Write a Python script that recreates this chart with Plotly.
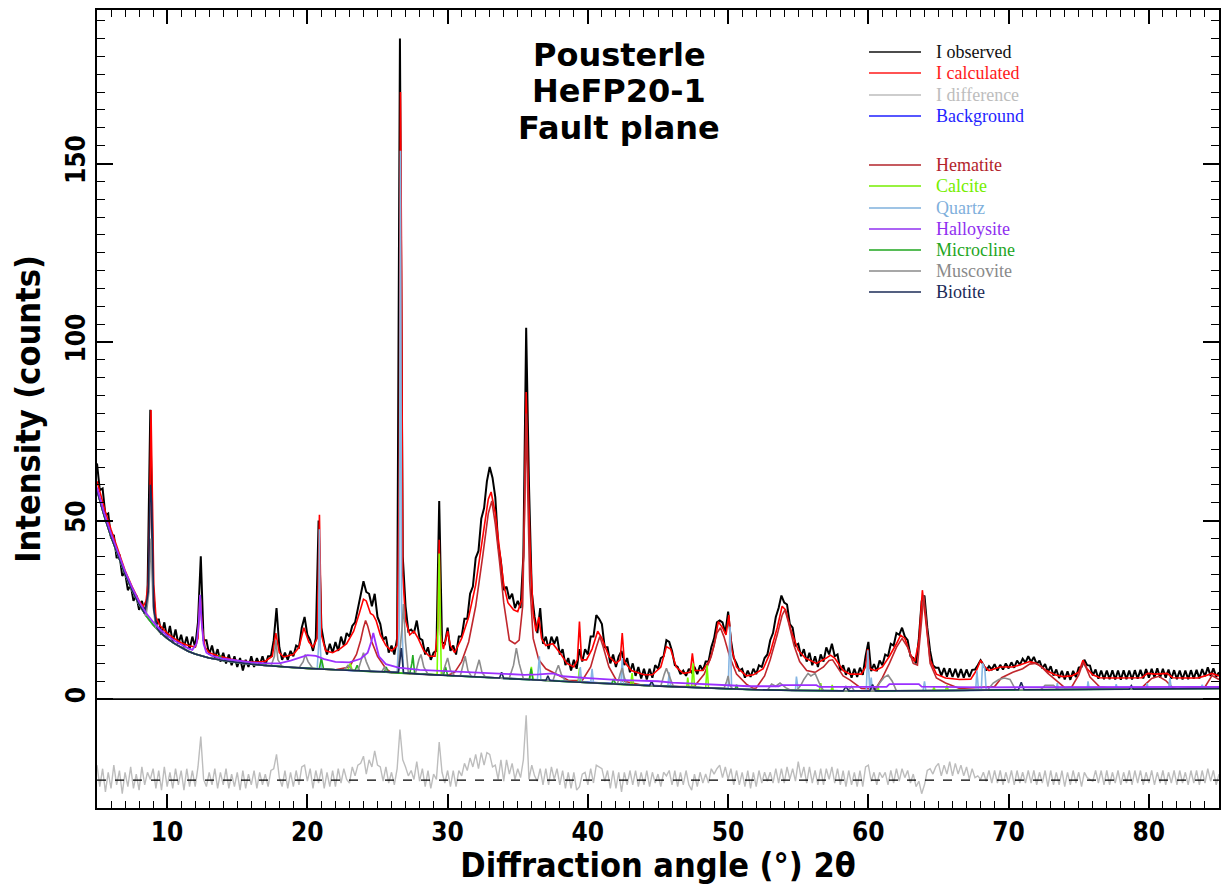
import numpy as np
import plotly.graph_objects as go

## scan grid (2theta, 0.2 deg step) for observed and difference curves
two_theta = np.round(np.arange(5.0, 85.0001, 0.2), 1)

obs_y = [
    66, 58.5, 59, 51.5, 52, 45, 46, 39.5, 40.5, 34.5,          # 5.0 - 6.8
    35.5, 30.5, 32, 27.5, 29, 25, 27.5, 24, 29, 81,            # 7.0 - 8.8
    31, 20.5, 22.5, 18, 21.5, 17, 20.5, 16, 19.5, 15.5,        # 9.0 - 10.8
    18, 14.5, 17.5, 14, 17.5, 14.5, 21.5, 40, 16.5, 16.5,      # 11.0 - 12.8
    12.5, 15, 11.5, 14, 10.5, 13, 10, 12.5, 9.5, 12,           # 13.0 - 14.8
    9, 11.5, 8, 11, 9, 12, 9, 11.5, 9.5, 12,                   # 15.0 - 16.8
    9.5, 12, 12, 16.5, 25.5, 14.5, 11, 13, 11, 13.5,           # 17.0 - 18.8
    12, 15, 14.5, 20, 23, 18, 16.5, 13.5, 17, 50,              # 19.0 - 20.8
    20, 15.5, 12.5, 15.5, 13, 16, 13.5, 17.5, 15, 18.5,        # 21.0 - 22.8
    17.5, 20.5, 21.5, 25.5, 28.5, 33, 30, 29.5, 26, 29.5,      # 23.0 - 24.8
    23, 21, 16.5, 17.5, 13, 15, 12.5, 17, 185, 40,             # 25.0 - 26.8
    26, 19, 19.5, 18.5, 22, 17, 16.5, 12.5, 14.5, 11,          # 27.0 - 28.8
    13, 13.5, 55.5, 16, 15.5, 20, 13.5, 15, 12.5, 17.5,        # 29.0 - 30.8
    17.5, 22.5, 22.5, 29.5, 31.5, 39.5, 41.5, 50.5, 53.5, 61,  # 31.0 - 32.8
    65, 62, 56.5, 43.5, 38.5, 30.5, 31.5, 28, 29.5, 25.5,      # 33.0 - 34.8
    27.5, 25.5, 40, 104, 60, 30, 23, 18.5, 25.5, 15.5,         # 35.0 - 36.8
    17.5, 14, 17.5, 15.5, 17.5, 12.5, 14, 9.5, 11.5, 8,        # 37.0 - 38.8
    11, 8.5, 14, 10.5, 14, 12.5, 17.5, 17.5, 23.5, 22.5,       # 39.0 - 40.8
    21, 14.5, 14.5, 10, 12.5, 9, 12, 13.5, 9.5, 11.5,          # 41.0 - 42.8
    7.5, 10, 6.5, 9, 5.8, 8.5, 5.5, 8.5, 6, 9.5,               # 43.0 - 44.8
    8.5, 11.5, 12, 16.5, 16, 13.5, 9.5, 9, 7, 8,               # 45.0 - 46.8
    6.5, 8.5, 7.5, 9, 7, 9.5, 8, 10.5, 10.5, 14.5,             # 47.0 - 48.8
    17, 21.5, 22, 21.5, 18.5, 24.5, 16.5, 11.5, 10, 8,         # 49.0 - 50.8
    8.5, 6, 8, 6.2, 8.5, 7, 9.5, 9, 11.5, 12.5,                # 51.0 - 52.8
    16.5, 18.5, 23, 25.5, 29, 27, 26.5, 21, 20, 15,            # 53.0 - 54.8
    15.5, 12, 14, 10.5, 13, 9.5, 12, 9, 12.5, 10.5,            # 55.0 - 56.8
    14.5, 12.5, 15.5, 12, 12.5, 8, 9.5, 6.8, 8.8, 6,           # 57.0 - 58.8
    8.5, 6.2, 8.8, 6.8, 12, 16, 7.8, 9.8, 7.8, 10.8,           # 59.0 - 60.8
    9.5, 12.5, 12, 15.5, 15, 18.5, 18, 20, 17.5, 16.5,         # 61.0 - 62.8
    12, 11.5, 10, 17, 27.5, 29, 20, 13.5, 9.5, 8.8,            # 63.0 - 64.8
    8.8, 6.6, 8.7, 6.3, 8.6, 6.2, 8.5, 6.1, 8.4, 6,            # 65.0 - 66.8
    8.3, 6.2, 8.2, 8.3, 9.5, 10.9, 9.6, 8, 9.2, 8.3,           # 67.0 - 68.8
    9.8, 8, 9.6, 8.3, 10, 8.6, 10.3, 8.8, 10.8, 9.6,           # 69.0 - 70.8
    11.3, 10.2, 12, 10.4, 11.8, 9.8, 10.8, 8.6, 9.8, 7.6,      # 71.0 - 72.8
    9.2, 6.6, 8.3, 5.9, 7.9, 5.5, 7.8, 5.4, 7.9, 6.2,          # 73.0 - 74.8
    8.8, 9, 11, 9.5, 9.4, 6.6, 8.3, 5.7, 8, 5.6,               # 75.0 - 76.8
    8, 5.6, 8.1, 5.5, 8, 5.4, 8.1, 5.6, 8, 5.5,                # 77.0 - 78.8
    8.1, 5.7, 8.2, 5.8, 8.4, 6, 8.5, 6.1, 8.6, 6,              # 79.0 - 80.8
    8.5, 6, 8.3, 5.7, 8.1, 5.6, 8, 5.5, 8, 5.6,                # 81.0 - 82.8
    8.1, 5.7, 8.2, 5.8, 8.4, 6.4, 8.9, 6.5, 8.6, 6.3,          # 83.0 - 84.8
    7.5]

# difference curve, already shifted down to its own baseline
diff_offset = -22.7
diff_y = [
    -18.5, -24.5, -19.5, -26, -20.5, -25, -18.5, -24, -20, -26.5,
    -20.5, -24.5, -19, -25, -21, -25.5, -19, -24, -20.5, -22.5,
    -19.5, -25, -20, -25.5, -19, -24.5, -20.5, -25, -19.5, -24,
    -20, -25.5, -19.5, -24.5, -20, -24.5, -19, -10.5, -22.5, -24.5,
    -20.5, -24, -19.5, -25, -20.5, -24, -19.5, -25, -21, -24.5,
    -20.5, -25.5, -20, -25, -21, -24, -20, -25, -20.5, -24,
    -21, -24.5, -20, -19.5, -15.5, -22, -24.5, -20, -25, -20.5,
    -24.5, -20, -24, -19, -18.5, -23, -19.5, -25, -20, -23.5,
    -19.5, -25, -20.5, -24.5, -20, -24.5, -19.5, -23.5, -19.5, -22.5,
    -23.5, -19, -21.5, -18.5, -18, -16, -21, -17, -19, -14.5,
    -18.5, -19, -23, -19, -23.5, -20.5, -24, -19.5, -8.5, -17,
    -19, -21.5, -20, -22.5, -17.5, -23, -19.5, -24.5, -20, -25,
    -21, -22.5, -12, -20.5, -23.5, -20, -24.5, -20, -24.5, -20,
    -21.5, -18, -20, -16.5, -19, -15.5, -19.5, -15, -18.5, -15,
    -15.5, -19, -18.5, -22.5, -17, -23, -17, -21, -18, -22.5,
    -19.5, -22, -17, -4.5, -22.5, -18.5, -21.5, -23, -19.5, -24,
    -19.5, -24, -19, -22.5, -19.5, -24, -20, -25, -20.5, -25,
    -20.5, -25.5, -24.5, -21, -20.5, -24, -19.5, -23.5, -18.5, -19,
    -19.5, -23, -20, -25, -20, -25, -20.5, -26, -20.5, -24,
    -20, -24, -20, -24.5, -20.5, -24, -20, -24.5, -20.5, -23.5,
    -21, -24.5, -20.5, -21.5, -20, -24, -20, -24.5, -20.5, -24,
    -20, -24, -25.5, -21, -24.5, -20.5, -23.5, -21, -23.5, -19.5,
    -21, -19.5, -18.5, -22, -19, -22.5, -19.5, -24, -20, -24,
    -20.5, -24.5, -20, -25, -20.5, -24.5, -20, -23.5, -20.5, -23,
    -20.5, -23.5, -19.5, -23.5, -19.5, -23.5, -19, -22.5, -19.5, -23,
    -17.5, -22, -19, -23.5, -19, -23.5, -20, -24, -19.5, -24,
    -19.5, -22.5, -19, -23.5, -19.5, -24, -20, -24.5, -20, -24,
    -20.5, -24.5, -20, -24.5, -19, -18.5, -23, -20.5, -24, -20.5,
    -22, -20.5, -24, -20, -23.5, -19.5, -23, -19.5, -22, -20,
    -23.5, -21, -24.5, -23, -26.5, -24, -20, -19.5, -21, -19,
    -18, -21.5, -18.5, -21, -17.5, -21.5, -18, -21, -18.5, -21.5,
    -19, -22.5, -19.5, -22, -21.5, -22.5, -20.5, -23, -20, -23.5,
    -20, -23.5, -20, -24, -20.5, -23.5, -20, -24, -20, -23.5,
    -20.5, -23.5, -20, -23.5, -20, -24, -20.5, -23.5, -20, -24.5,
    -20, -24, -20.5, -24, -20, -24.5, -20.5, -24, -20, -23.5,
    -20.5, -24.5, -20.5, -22, -22.5, -23, -20, -23.5, -20, -24,
    -20, -24, -20.5, -23.5, -20, -24, -20.5, -23.5, -20, -24,
    -20, -23.5, -20, -24, -20.5, -23.5, -20, -24, -20.5, -23.5,
    -20, -24, -20.5, -23.5, -20, -24, -20, -23.5, -20.5, -24,
    -20, -23.5, -20, -24, -20, -23.5, -19.5, -23, -20, -24,
    -21]

## calculated pattern (2theta, counts)
calc_pts = [
    (5.0, 61), (5.3, 56.5), (5.6, 52.5), (6.0, 47.5), (6.5, 41.5), (7.0, 36), (7.5, 31.5), (8.0, 27.5),
    (8.3, 26), (8.5, 27.5), (8.65, 33), (8.75, 50), (8.85, 81), (8.95, 55), (9.05, 32), (9.2, 23),
    (9.5, 20.5), (10.0, 18.5), (10.5, 17), (11.0, 15.8), (11.5, 15), (12.0, 14.6), (12.2, 17), (12.35, 29),
    (12.5, 20), (12.7, 14.5), (13.0, 13), (13.5, 12.3), (14.0, 11.7), (14.5, 11.2), (15.0, 10.8), (15.5, 10.5),
    (16.0, 10.4), (16.5, 10.4), (17.0, 10.6), (17.5, 12), (17.75, 18.5), (18.0, 13), (18.3, 11.8), (18.7, 12.2),
    (19.0, 12.5), (19.4, 14.5), (19.75, 20), (20.1, 16), (20.4, 14.5), (20.7, 17), (20.86, 51.6), (21.0, 18),
    (21.3, 13.5), (21.8, 13), (22.3, 14), (22.8, 15.5), (23.3, 19), (23.7, 24), (24.0, 28), (24.2, 27.5),
    (24.5, 24), (24.7, 23.5), (24.9, 22), (25.2, 18), (25.6, 15), (26.0, 13.5), (26.4, 15), (26.55, 60),
    (26.64, 170), (26.72, 120), (26.8, 35), (27.0, 22), (27.3, 18), (27.6, 19), (27.9, 17), (28.3, 13.5),
    (28.7, 12), (29.1, 12), (29.3, 20), (29.4, 44.6), (29.5, 18), (29.7, 14), (30.0, 19), (30.2, 15),
    (30.5, 13), (31.0, 17), (31.5, 23), (32.0, 32), (32.5, 45), (32.9, 56), (33.1, 58), (33.4, 52),
    (33.7, 42), (34.0, 32), (34.3, 27), (34.7, 25), (35.0, 24.5), (35.3, 28), (35.45, 45), (35.6, 86),
    (35.75, 60), (35.9, 40), (36.1, 24), (36.3, 19), (36.5, 23), (36.7, 17), (37.0, 15), (37.5, 15.5),
    (38.0, 13), (38.5, 10), (39.0, 9), (39.25, 11), (39.4, 21.7), (39.55, 11), (39.9, 11), (40.3, 14),
    (40.7, 19), (41.0, 17), (41.5, 12), (42.0, 10), (42.3, 11), (42.45, 18.5), (42.6, 10.5), (43.1, 8),
    (44.0, 6.8), (44.6, 6.8), (45.2, 9), (45.6, 14.7), (45.9, 14), (46.3, 9), (46.8, 7.2), (47.3, 7.5),
    (47.45, 12.8), (47.6, 8), (48.2, 8), (48.5, 10), (48.7, 11), (49.0, 15), (49.3, 21.7), (49.6, 20),
    (49.85, 18), (50.05, 23.5), (50.25, 14), (50.6, 9), (51.3, 6.5), (51.8, 6.8), (52.5, 8.5), (53.0, 13),
    (53.5, 20), (53.85, 26), (54.1, 25), (54.5, 19), (55.0, 13.7), (55.5, 11.5), (56.3, 10), (57.0, 11.5),
    (57.3, 12.3), (57.6, 11.5), (58.2, 8), (58.7, 7), (59.5, 7), (59.8, 9), (59.95, 14), (60.1, 8.5),
    (60.5, 8), (61.0, 9), (61.5, 12), (62.0, 15.5), (62.3, 17.9), (62.6, 17), (63.0, 12.5), (63.3, 10.5),
    (63.6, 16), (63.85, 30.5), (64.1, 22), (64.4, 11), (64.85, 7), (65.5, 5.9), (66.5, 5.5), (67.3, 5.6),
    (67.7, 8), (68.0, 10.9), (68.3, 9), (68.6, 8), (69.4, 9), (70.3, 9), (71.0, 9.8), (71.5, 10.5),
    (72.0, 10), (72.7, 8), (73.3, 6.8), (73.85, 6.3), (74.5, 6.5), (75.0, 7.5), (75.3, 10.9), (75.6, 8.5),
    (76.0, 6.8), (76.5, 6), (77.5, 5.9), (78.5, 5.9), (79.5, 6), (79.9, 7.2), (80.5, 7), (81.3, 7.2),
    (81.7, 6), (82.5, 5.9), (83.5, 5.9), (84.0, 6.5), (84.5, 7.2), (85.0, 6.5)]

## background
bg_pts = [
    (5, 58.5), (5.5, 51.5), (6, 45.5), (6.5, 40), (7, 35), (7.5, 30.5), (8, 26.5), (8.5, 23.3), (9, 20.8),
    (9.5, 18.7), (10, 17), (10.5, 15.6), (11, 14.4), (11.5, 13.4), (12, 12.6), (13, 11.5), (14, 10.8),
    (15, 10.2), (16, 9.8), (17, 9.4), (18, 9.1), (19, 8.8), (20, 8.6), (22, 8.2), (24, 7.8), (26, 7.4),
    (28, 7.0), (30, 6.6), (32, 6.2), (34, 5.8), (36, 5.4), (38, 5.0), (40, 4.6), (42, 4.2), (44, 3.8),
    (46, 3.5), (48, 3.2), (50, 2.9), (52, 2.6), (55, 2.4), (58, 2.3), (62, 2.3), (66, 2.4), (70, 2.6),
    (74, 2.7), (78, 2.8), (82, 2.9), (85, 3.0)]

## phase curves: stretches where each phase rises above the background
hematite_runs = [
    [(23.0, 9), (23.5, 12.5), (23.8, 16.5), (24.0, 20), (24.15, 22), (24.3, 20.5), (24.6, 16), (25.0, 12),
     (25.6, 8.5)],
    [(30.5, 7.5), (31.0, 10.5), (31.5, 16), (32.0, 26), (32.5, 40), (32.9, 52), (33.15, 55.5), (33.4, 49),
     (33.7, 38.5), (34.0, 27), (34.4, 16.5), (34.8, 15.5), (35.1, 16.5), (35.35, 26), (35.5, 55), (35.6, 80),
     (35.7, 60), (35.85, 33), (36.1, 17), (36.5, 11), (37.0, 8.5), (38.0, 6.5), (38.6, 5.3)],
    [(39.6, 5.2), (40.2, 9), (40.6, 14.5), (40.85, 17.5), (41.1, 14.5), (41.5, 9), (42.0, 5.5)],
    [(47.6, 3.6), (48.3, 7), (48.8, 12), (49.2, 18.5), (49.45, 20), (49.7, 17.5), (50.1, 12), (50.6, 7),
     (51.3, 4.2), (51.8, 3.0)],
    [(52.0, 3.1), (52.6, 6.5), (53.0, 11), (53.5, 18), (53.85, 23.5), (54.05, 25), (54.3, 21.5), (54.7, 15),
     (55.1, 10.5), (55.6, 8), (56.2, 7.5), (56.8, 9), (57.2, 10.8), (57.45, 11), (57.8, 9), (58.2, 6.5),
     (58.7, 5.3), (59.5, 3.0)],
    [(60.5, 2.8), (61.0, 6), (61.5, 10), (62.0, 14.5), (62.4, 17), (62.8, 14.5), (63.2, 10), (63.5, 9.5),
     (63.75, 20), (63.95, 29), (64.15, 21), (64.4, 10), (64.85, 5.9), (65.5, 4.5), (66.5, 3.0)],
    [(69.0, 3.5), (69.5, 6), (70.3, 7.5), (71.0, 8.5), (71.5, 9.8), (71.9, 10), (72.3, 9.2), (72.8, 7.2),
     (73.4, 5.2), (74.0, 3.2)],
    [(74.5, 3.4), (75.0, 6.8), (75.3, 10.2), (75.5, 9), (75.8, 6.2), (76.5, 3.4)],
    [(79.5, 3.2), (80.2, 5.8), (80.7, 6.4), (81.2, 5.2), (81.7, 3.2)],
    [(84.0, 3.4), (84.5, 6.6), (85.0, 5.5)]]

calcite_runs = [
    [(22.9, 8.2), (23.05, 10), (23.2, 8.1)],
    [(29.25, 6.85), (29.4, 40.8), (29.55, 6.8)],
    [(35.85, 5.5), (35.97, 9), (36.1, 5.4)],
    [(39.3, 4.75), (39.4, 8.6), (39.5, 4.7)],
    [(43.05, 4.0), (43.15, 7.3), (43.25, 4.0)],
    [(47.05, 3.4), (47.12, 6), (47.2, 3.4)],
    [(47.4, 3.35), (47.5, 10), (47.6, 3.35)],
    [(48.4, 3.15), (48.5, 9.5), (48.6, 3.15)],
    [(56.5, 2.35), (56.6, 4.5), (56.7, 2.35)],
    [(57.35, 2.32), (57.42, 4), (57.5, 2.3)],
    [(60.6, 2.3), (60.68, 3.8), (60.75, 2.3)],
    [(64.6, 2.4), (64.68, 3.5), (64.75, 2.4)],
    [(65.5, 2.4), (65.6, 3.8), (65.7, 2.4)]]

quartz_runs = [
    [(20.7, 8.5), (20.8, 15), (20.86, 47.6), (20.92, 15), (21.0, 8.5)],
    [(26.4, 7.5), (26.55, 20), (26.64, 153.6), (26.72, 25), (26.85, 7.4), (27.0, 7.3)],
    [(36.4, 5.3), (36.54, 12), (36.65, 5.3)],
    [(39.35, 4.75), (39.46, 9), (39.56, 4.7)],
    [(40.2, 4.55), (40.3, 8.5), (40.4, 4.5)],
    [(42.35, 4.15), (42.45, 11.5), (42.55, 4.1)],
    [(45.7, 3.55), (45.8, 7.5), (45.9, 3.5)],
    [(50.0, 2.9), (50.14, 20.3), (50.25, 2.9)],
    [(54.8, 2.4), (54.87, 6.3), (54.95, 2.4)],
    [(59.85, 2.3), (59.96, 13.7), (60.05, 2.3), (60.1, 2.3), (60.2, 6), (60.3, 2.3)],
    [(63.9, 2.3), (64.0, 5), (64.1, 2.3)],
    [(67.65, 2.5), (67.74, 8), (67.85, 2.5), (68.05, 2.5), (68.14, 10), (68.3, 8.5), (68.4, 2.5)],
    [(73.4, 2.7), (73.47, 4.5), (73.55, 2.7)],
    [(75.6, 2.7), (75.66, 5), (75.75, 2.7)],
    [(77.6, 2.8), (77.67, 4.2), (77.75, 2.8)],
    [(79.8, 2.8), (79.88, 4.5), (79.95, 2.8)],
    [(81.4, 2.85), (81.5, 5.9), (81.6, 2.85)],
    [(83.7, 2.9), (83.8, 4), (83.9, 2.9)]]

microcline_runs = [
    [(13.55, 11.2), (13.75, 12.2), (13.95, 11.0)],
    [(20.85, 8.5), (21.0, 11.5), (21.15, 8.5)],
    [(23.4, 8.0), (23.55, 9.5), (23.7, 8.0)],
    [(25.5, 7.6), (25.62, 9), (25.75, 7.55)],
    [(27.3, 7.1), (27.45, 10), (27.52, 12.3), (27.65, 7.1)],
    [(29.7, 6.7), (29.85, 9), (30.0, 6.6)],
    [(35.82, 5.45), (35.95, 8.5), (36.08, 5.4)],
    [(41.7, 4.3), (41.82, 5.6), (41.95, 4.3)],
    [(50.5, 2.8), (50.6, 4), (50.7, 2.8)]]

muscovite_runs = [
    [(8.5, 23.3), (8.7, 30), (8.85, 45), (9.0, 26), (9.2, 20.0)],
    [(17.4, 9.2), (17.65, 12), (17.75, 16.5), (17.9, 11), (18.2, 9.1)],
    [(19.4, 8.7), (19.7, 10.5), (19.85, 12.5), (20.05, 10.5), (20.4, 8.5)],
    [(22.6, 8.1), (22.9, 9.5), (23.2, 8.1)],
    [(23.6, 7.9), (23.85, 11), (24.0, 13), (24.2, 10.5), (24.5, 7.7)],
    [(25.3, 7.6), (25.5, 9), (25.7, 7.5)],
    [(26.45, 7.5), (26.75, 20), (26.85, 26.6), (27.0, 16), (27.2, 7.2)],
    [(27.7, 7.1), (27.95, 11), (28.1, 12.5), (28.3, 9), (28.6, 6.9)],
    [(29.6, 6.7), (29.85, 9.5), (30.0, 11.5), (30.2, 8), (30.5, 6.5)],
    [(30.9, 6.4), (31.1, 9.5), (31.25, 12), (31.45, 8), (31.7, 6.3)],
    [(31.9, 6.2), (32.1, 9), (32.25, 11), (32.45, 7.5), (32.7, 6.1)],
    [(34.4, 5.9), (34.7, 9.5), (34.9, 14.3), (35.1, 10), (35.4, 5.7)],
    [(37.5, 5.1), (37.75, 8), (37.9, 9.5), (38.1, 7), (38.4, 5.0)],
    [(42.1, 4.2), (42.3, 7), (42.45, 8.7), (42.6, 6), (42.8, 4.1)],
    [(45.2, 3.7), (45.45, 7), (45.6, 8.6), (45.8, 6.5), (46.1, 3.5)],
    [(49.7, 2.95), (49.9, 5), (50.0, 6.5), (50.1, 4), (50.3, 2.9)],
    [(52.8, 2.5), (53.1, 4.2), (53.4, 3.6), (53.7, 4.5), (54.1, 3.2), (54.5, 2.45)],
    [(54.9, 2.4), (55.2, 4), (55.4, 5.5), (55.7, 7.2), (55.9, 6.5), (56.2, 7.2), (56.5, 4.5), (56.8, 2.4)],
    [(58.5, 2.3), (58.8, 3.5), (59.0, 2.3)],
    [(60.5, 2.3), (60.8, 4.5), (61.1, 6), (61.4, 6.7), (61.7, 5), (62.0, 2.3)],
    [(68.5, 2.55), (68.9, 4.5), (69.3, 5.5), (69.7, 5.9), (70.1, 5.5), (70.5, 2.6)],
    [(72.3, 2.65), (72.6, 3.9), (73.2, 3.9), (73.5, 2.7)]]

biotite_runs = [
    [(8.4, 24), (8.65, 30), (8.8, 60), (8.9, 55), (9.05, 25), (9.3, 19.8)],
    [(26.5, 7.5), (26.7, 14.3), (26.85, 7.4)],
    [(33.7, 5.9), (33.85, 7.5), (34.0, 5.8)],
    [(37.0, 5.2), (37.15, 6.5), (37.3, 5.2)],
    [(44.4, 3.75), (44.55, 5), (44.7, 3.7)],
    [(58.2, 2.3), (58.4, 3.5), (58.6, 2.3)],
    [(60.1, 2.3), (60.3, 4.1), (60.5, 2.3)],
    [(70.7, 2.6), (70.9, 4.7), (71.1, 2.6)],
    [(78.6, 2.8), (78.75, 3.8), (78.9, 2.8)]]

# halloysite sits a little above the background over the whole range
halloysite_pts = [
    (5, 59.3), (5.5, 52.3), (6, 46.3), (6.5, 40.8), (7, 35.8), (7.5, 31.3), (8, 27.3), (8.5, 24.1), (9, 21.6),
    (9.5, 19.5), (10, 17.8), (10.5, 16.4), (11, 15.2), (11.5, 14.2), (11.8, 13.8), (12.1, 15.5), (12.25, 21),
    (12.35, 29.2), (12.45, 22), (12.6, 15.5), (12.8, 13), (13.2, 12.1), (14, 11.3), (15, 10.7), (16, 10.3),
    (17, 10), (18, 10), (18.8, 10.8), (19.5, 11.8), (20, 12.3), (20.6, 12.1), (21.2, 11.2), (22, 10.4),
    (23, 10.3), (23.8, 11.3), (24.3, 13), (24.55, 16), (24.7, 18.5), (24.85, 16), (25.1, 12), (25.6, 9.8),
    (26.5, 8.8), (28, 8.2), (30, 7.8), (32, 7.3), (34, 6.9), (35.5, 6.8), (36.5, 6.9), (37.5, 7.2),
    (38.2, 6.4), (39, 6.1), (40, 5.9), (42, 5.4), (45, 5.0), (46, 4.6), (48, 4.3), (50, 4.0), (51.5, 3.6),
    (53.6, 3.6), (53.8, 3.9), (56.3, 3.9), (56.5, 3.4), (61.3, 3.4), (61.5, 4.2), (63.6, 4.2), (63.8, 3.5),
    (68, 3.3), (75, 3.3), (85, 3.4)]

legend_names = ['I observed', 'I calculated', 'I difference', 'Background',
                'Hematite', 'Calcite', 'Quartz', 'Halloysite', 'Microcline', 'Muscovite', 'Biotite']
legend_colors = ['#111111', '#ff1a1a', '#bdbdbd', '#1f1fff',
                 '#b3242b', '#76ee00', '#7fb0dc', '#9030f0', '#1fa61f', '#8a8a8a', '#1b2b57']
title_lines = ['Pousterle', 'HeFP20-1', 'Fault plane']


def xy(pts):
    return [p[0] for p in pts], [p[1] for p in pts]


def on_background(runs):
    # phase curve = its own read stretches, background elsewhere
    spans = [(r[0][0], r[-1][0]) for r in runs]
    pts = [p for p in bg_pts if not any(a <= p[0] <= b for a, b in spans)]
    for r in runs:
        pts += r
    pts.sort()
    return xy(pts)


fig = go.Figure()
fig.add_trace(go.Scatter(x=two_theta, y=obs_y, mode='lines', line=dict(color='black', width=2), name='I observed'))
cx, cy = xy(calc_pts)
fig.add_trace(go.Scatter(x=cx, y=cy, mode='lines', line=dict(color='#ff0000', width=1.6), name='I calculated'))
fig.add_trace(go.Scatter(x=two_theta, y=diff_y, mode='lines', line=dict(color='#bdbdbd', width=1.4), name='I difference'))
bx, by = xy(bg_pts)
fig.add_trace(go.Scatter(x=bx, y=by, mode='lines', line=dict(color='#0000ff', width=1.4), name='Background'))

phases = [('Hematite', hematite_runs, '#c0272d'), ('Calcite', calcite_runs, '#7cfc00'),
          ('Quartz', quartz_runs, '#86b6e3'), ('Microcline', microcline_runs, '#22aa22'),
          ('Muscovite', muscovite_runs, '#8c8c8c'), ('Biotite', biotite_runs, '#1b2b57')]
for name, runs, c in phases:
    px_, py_ = on_background(runs)
    fig.add_trace(go.Scatter(x=px_, y=py_, mode='lines', line=dict(color=c, width=1.6), name=name))
hx, hy = xy(halloysite_pts)
fig.add_trace(go.Scatter(x=hx, y=hy, mode='lines', line=dict(color='#9b30ff', width=1.8), name='Halloysite'))

# zero line and difference baseline
fig.add_hline(y=0, line=dict(color='black', width=1.6))
fig.add_hline(y=diff_offset, line=dict(color='black', width=1.4, dash='dash'))

# hand-made legend (longer line samples than plotly's own)
L, W, T, H = 97, 1122, 10, 798
row_px = [52, 73, 95, 116, 165, 186, 208, 229, 250, 271, 292]
for name, c, ry in zip(legend_names, legend_colors, row_px):
    yp = (T + H - ry) / H
    fig.add_shape(type='line', xref='paper', yref='paper', x0=(869 - L) / W, x1=(921 - L) / W, y0=yp, y1=yp,
                  line=dict(color=c, width=1.6))
    fig.add_annotation(text=name, xref='paper', yref='paper', x=(935 - L) / W, y=yp, xanchor='left',
                       yanchor='middle', showarrow=False, borderpad=0,
                       font=dict(family='Liberation Serif, Times New Roman, serif', size=18, color=c))

for line, ty in zip(title_lines, [55, 91.5, 128]):
    fig.add_annotation(text=line, xref='paper', yref='paper', x=(619 - L) / W, y=(T + H - ty) / H,
                       xanchor='center', yanchor='middle', showarrow=False, borderpad=0,
                       font=dict(family='DejaVu Sans', size=32, color='black', weight='bold'))

axfont = dict(family='DejaVu Sans Condensed, DejaVu Sans', size=26, color='black', weight='bold')
titfont = dict(family='DejaVu Sans Condensed, DejaVu Sans', size=34, color='black', weight='bold')
fig.update_xaxes(range=[5, 85], tickmode='array', tickvals=list(range(10, 81, 10)),
                 ticks='inside', ticklen=14, tickwidth=1.6, tickcolor='black',
                 minor=dict(tickvals=[v for v in range(5, 86) if v % 10], ticks='inside', ticklen=7,
                            tickwidth=1.2, tickcolor='black'),
                 showline=True, linewidth=2, linecolor='black', mirror='ticks', showgrid=False, zeroline=False,
                 automargin=False, tickfont=axfont,
                 title=dict(text='Diffraction angle (°) 2θ', font=titfont, standoff=4))
fig.update_yaxes(range=[-30.5, 193], tickmode='array', tickvals=[0, 50, 100, 150], tickangle=-90,
                 ticks='inside', ticklen=16, tickwidth=1.6, tickcolor='black',
                 minor=dict(tickvals=[v for v in range(5, 191, 5) if v % 50], ticks='inside', ticklen=8,
                            tickwidth=1.2, tickcolor='black'),
                 showline=True, linewidth=2, linecolor='black', mirror='ticks', showgrid=False, zeroline=False,
                 automargin=False, tickfont=axfont,
                 title=dict(text='Intensity (counts)', font=titfont, standoff=10))
fig.update_layout(width=1223, height=885, margin=dict(l=L, r=4, t=T, b=77), showlegend=False,
                  plot_bgcolor='white', paper_bgcolor='white')
# the page's default 8px body margin would push the figure off the window
fig.write_html('out.html', config={'displayModeBar': False},
               post_script="document.body.style.margin='0';")
